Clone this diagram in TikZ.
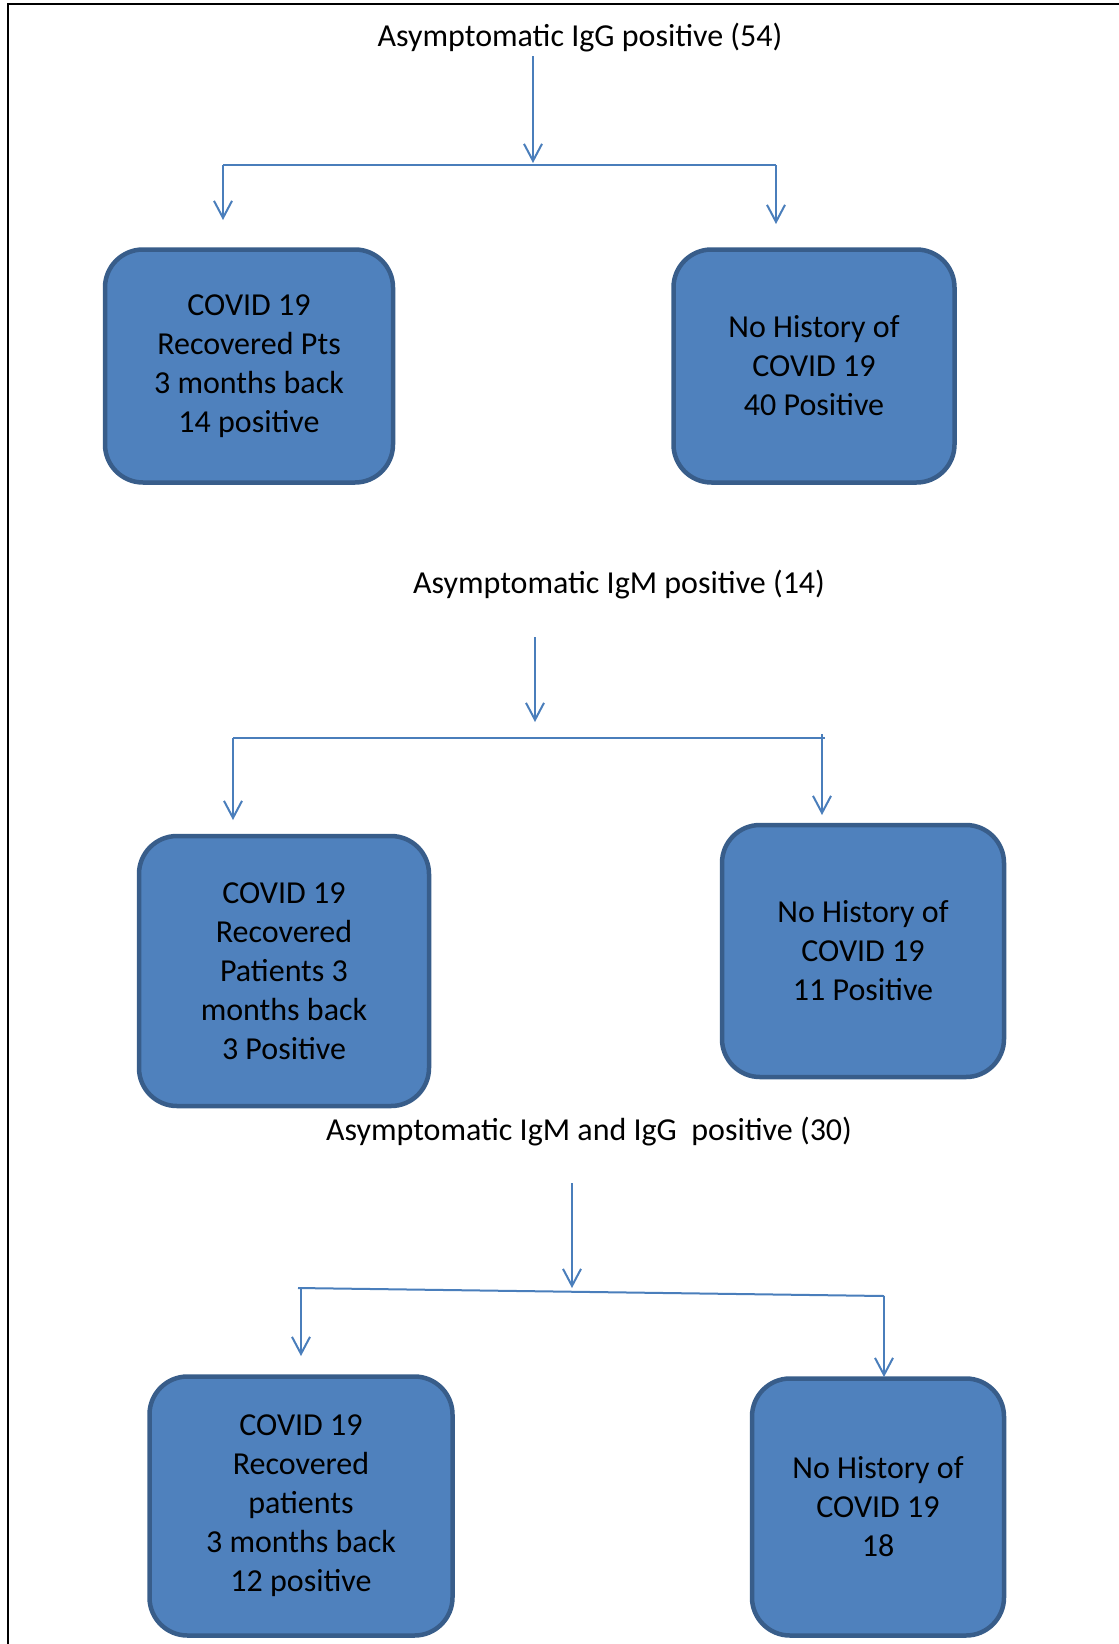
\documentclass[tikz,border=0pt]{standalone}
\usepackage{fontspec}
\setmainfont{Carlito}
\usetikzlibrary{arrows.meta}
\definecolor{boxfill}{HTML}{4F81BD}
\definecolor{boxline}{HTML}{385D8A}
\definecolor{linkcol}{HTML}{4A7EBB}
\begin{document}
\begin{tikzpicture}[x=1pt,y=-1pt]
% Configurable parameters
\def\fs{\fontsize{32}{39}\selectfont}

% Styles
\tikzstyle{title}=[font=\fs,inner sep=0pt]
\tikzstyle{box}=[draw=boxline,fill=boxfill,line width=4.5pt,rounded corners=38pt,align=center,font=\fs,inner sep=0pt]
\tikzstyle{link}=[draw=linkcol,line width=2pt]
\tikzstyle{arrow}=[link,arrows={-Straight Barb[length=17pt,width=18pt]}]

% Page size and frame
\useasboundingbox (0,0) rectangle (1119,1644);
\draw[line width=2.5pt] (1119,4) -- (8,4) -- (8,1644);

% First group: IgG
\node[title] (t1) at (580,38) {Asymptomatic IgG positive (54)};
\coordinate (a1) at (533,56);	% Start of the stem.
\coordinate (j1) at (533,163);	% Tip of the stem.
\coordinate (j1l) at (223,165);	% Left corner.
\coordinate (j1r) at (776,165);	% Right corner.
\coordinate (e1l) at (223,220);	% Left tip.
\coordinate (e1r) at (776,224);	% Right tip.
\node[box,minimum width=288pt,minimum height=233pt] (b1) at (249,366)
  {COVID 19\\Recovered Pts\\3 months back\\14 positive};
\node[box,minimum width=281pt,minimum height=233pt] (b2) at (814,366)
  {No History of\\COVID 19\\40 Positive};
\draw[arrow] (a1) -- (j1);
\draw[link] (j1l) -- (j1r);
\draw[arrow] (j1l) -- (e1l);
\draw[arrow] (j1r) -- (e1r);

% Second group: IgM
\node[title] (t2) at (619,585) {Asymptomatic IgM positive (14)};
\coordinate (a2) at (535,637);
\coordinate (j2) at (535,722);
\coordinate (j2l) at (233,738);
\coordinate (j2r) at (825,738);
\coordinate (s2r) at (822,734);
\coordinate (e2l) at (233,820);
\coordinate (e2r) at (822,815);
\node[box,minimum width=290pt,minimum height=270pt] (b3) at (284,971)
  {COVID 19\\Recovered\\Patients 3\\months back\\3 Positive};
\node[box,minimum width=282pt,minimum height=252pt] (b4) at (863,951)
  {No History of\\COVID 19\\11 Positive};
\draw[arrow] (a2) -- (j2);
\draw[link] (j2l) -- (j2r);
\draw[arrow] (j2l) -- (e2l);
\draw[arrow] (s2r) -- (e2r);

% Third group: IgM and IgG
\node[title] (t3) at (589,1132) {Asymptomatic IgM and IgG\ \ positive (30)};
\coordinate (a3) at (572,1183);
\coordinate (j3) at (572,1288);
\coordinate (j3l) at (298,1288);
\coordinate (s3l) at (301,1288);
\coordinate (j3r) at (884,1296);
\coordinate (e3l) at (301,1356);
\coordinate (e3r) at (884,1377);
\node[box,minimum width=303pt,minimum height=259pt] (b5) at (301,1506)
  {COVID 19\\Recovered\\patients\\3 months back\\12 positive};
\node[box,minimum width=252pt,minimum height=257pt] (b6) at (878,1507)
  {No History of\\COVID 19\\18};
\draw[arrow] (a3) -- (j3);
\draw[link] (j3l) -- (j3r);
\draw[arrow] (s3l) -- (e3l);
\draw[arrow] (j3r) -- (e3r);
\end{tikzpicture}
\end{document}
